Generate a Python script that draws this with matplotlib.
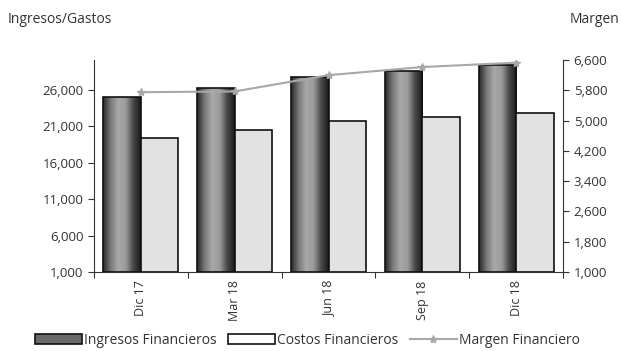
import numpy as np
import matplotlib.pyplot as plt
from matplotlib.colors import LinearSegmentedColormap
from matplotlib.patches import Patch
from matplotlib.lines import Line2D

periodos = ['Dic 17', 'Mar 18', 'Jun 18', 'Sep 18', 'Dic 18']
ingresos = [25080, 26230, 27720, 28650, 29430]
costos = [19410, 20510, 21740, 22330, 22880]
margen = [5750, 5770, 6200, 6415, 6530]

left_ticks = [1000, 6000, 11000, 16000, 21000, 26000]
right_ticks = [1000, 1800, 2600, 3400, 4200, 5000, 5800, 6600]
base = 1000

plt.rcParams['font.family'] = ['Open Sans', 'DejaVu Sans']

fig = plt.figure(figsize=(6.21, 3.51), dpi=100)
ax = fig.add_axes([0.151, 0.225, 0.756, 0.604])
ax2 = ax.twinx()

x = np.arange(len(periodos))
w = 0.4

# sombreado tipo cilindro para ingresos
cmap = LinearSegmentedColormap.from_list('cyl', ['#2a2a2a', '#7a7a7a', '#a8a8a8', '#9a9a9a', '#4a4a4a', '#1a1a1a'])
grad = np.linspace(0, 1, 64).reshape(1, -1)

bars = ax.bar(x - w / 2, np.array(ingresos) - base, w, bottom=base, color='none',
              edgecolor='#111111', linewidth=1.2, zorder=3)
for b in bars:
    im = ax.imshow(grad, cmap=cmap, aspect='auto', zorder=2,
                   extent=[b.get_x(), b.get_x() + b.get_width(), base, base + b.get_height()])
    im.set_clip_path(b)
ax.bar(x + w / 2, np.array(costos) - base, w, bottom=base, color='#e2e2e2',
       edgecolor='#111111', linewidth=1.2, zorder=3)

ax.set_xlim(-0.5, len(periodos) - 0.5)
ax.set_ylim(base, 30120)
ax.set_yticks(left_ticks)
ax.set_yticklabels([f'{v:,}' for v in left_ticks], fontsize=9.5, color='#333333')

ax.set_xticks(np.arange(len(periodos) + 1) - 0.5)
ax.set_xticklabels([])
ax.set_xticks(x, minor=True)
ax.set_xticklabels(periodos, minor=True, rotation=90, fontsize=9, color='#333333')
ax.tick_params(axis='x', which='minor', length=0, pad=6)
ax.tick_params(axis='x', which='major', length=4, color='#333333')
ax.tick_params(axis='y', length=4, color='#333333')

ax2.plot(x, margen, color='#a8a8a8', linewidth=1.5, marker='*', markersize=6, zorder=4)
ax2.set_ylim(base, 6600)
ax2.set_yticks(right_ticks)
ax2.set_yticklabels([f'{v:,}' for v in right_ticks], fontsize=9.5, color='#333333')
ax2.tick_params(axis='y', length=4, color='#333333')

for a in (ax, ax2):
    a.spines['top'].set_visible(False)
ax.spines['right'].set_visible(False)
ax2.spines['left'].set_visible(False)
ax2.spines['bottom'].set_visible(False)
for s in ['left', 'bottom']:
    ax.spines[s].set_color('#333333')
ax2.spines['right'].set_color('#333333')

fig.text(0.013, 0.935, 'Ingresos/Gastos', fontsize=10, color='#333333')
fig.text(0.997, 0.935, 'Margen', fontsize=10, color='#333333', ha='right')

handles = [Patch(facecolor='#6a6a6a', edgecolor='#111111', linewidth=1.2),
           Patch(facecolor='white', edgecolor='#111111', linewidth=1.2),
           Line2D([0], [0], color='#a8a8a8', linewidth=1.5, marker='*', markersize=6)]
fig.legend(handles, ['Ingresos Financieros', 'Costos Financieros', 'Margen Financiero'],
           loc='center', bbox_to_anchor=(0.495, 0.03), ncol=3, frameon=False,
           fontsize=10, handlelength=3.4, handleheight=0.7, handletextpad=0.15,
           columnspacing=0.8, labelcolor='#333333')

fig.savefig('out.png', dpi=100)
